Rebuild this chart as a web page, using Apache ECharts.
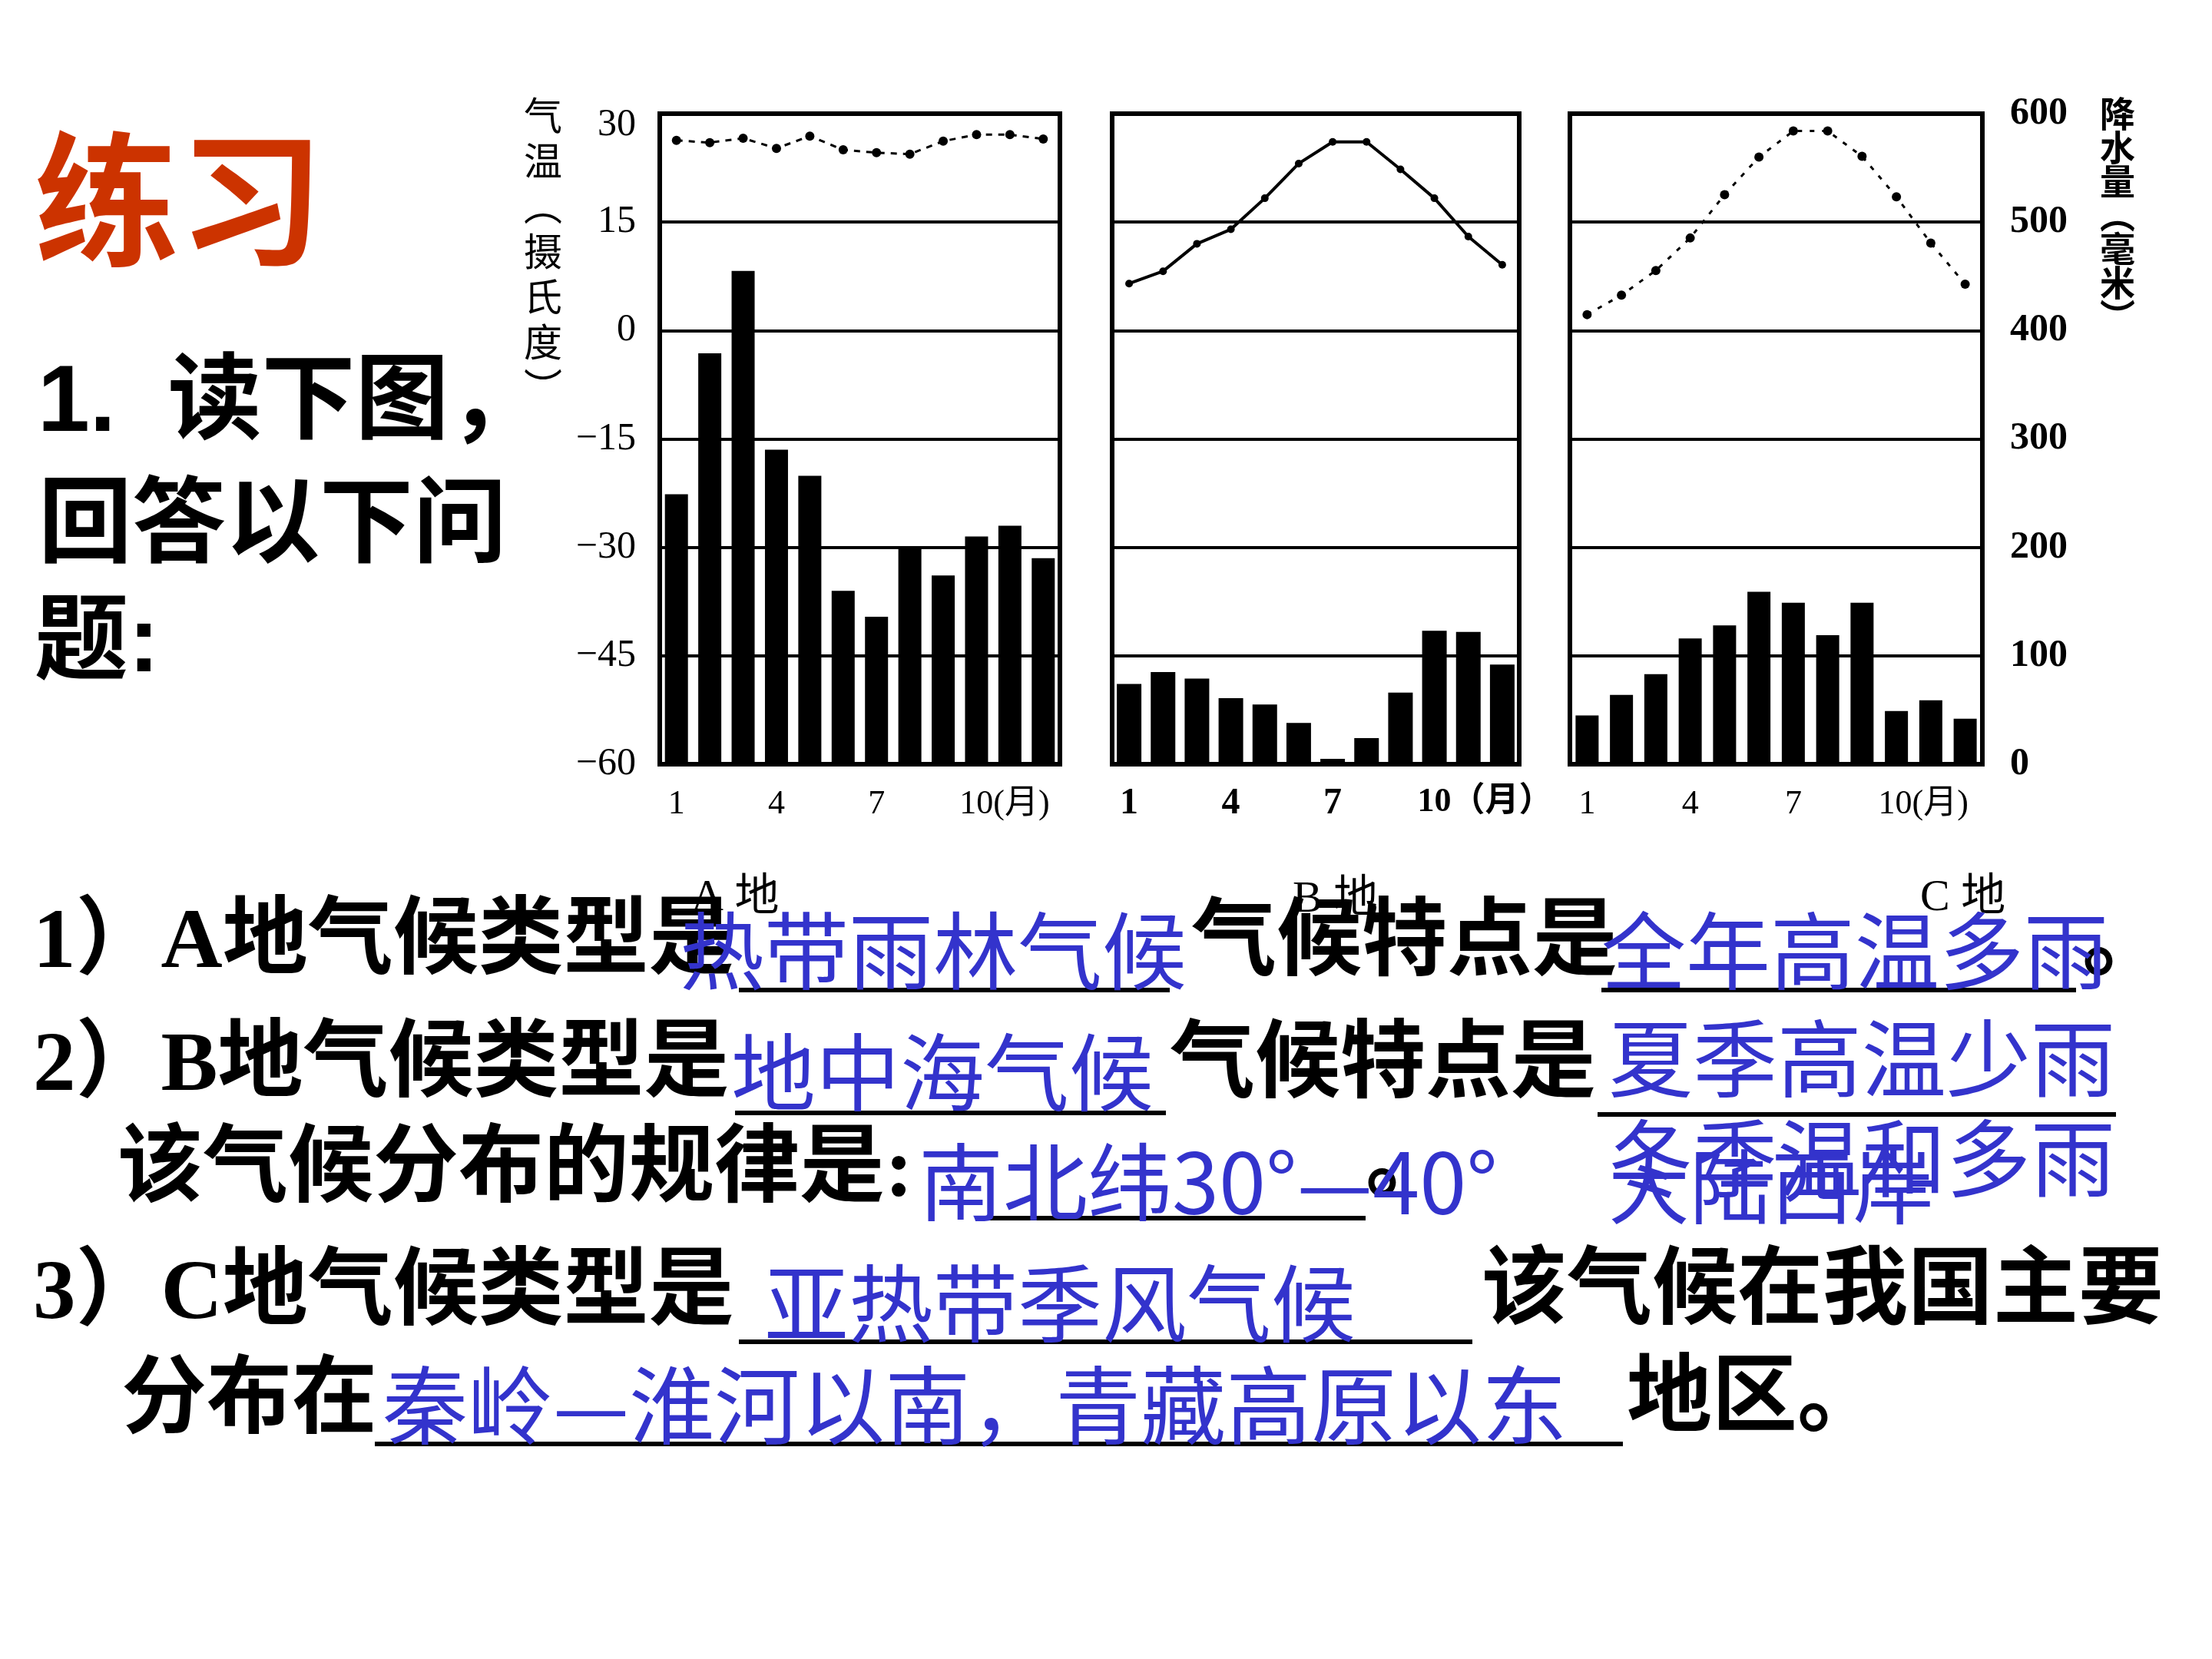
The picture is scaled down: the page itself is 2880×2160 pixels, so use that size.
<!DOCTYPE html>
<html>
<head>
<meta charset="utf-8">
<script src="https://cdn.jsdelivr.net/npm/echarts@6/dist/echarts.min.js"></script>
<style>
  html, body { margin: 0; padding: 0; background: #fff; }
  #chart { width: 2880px; height: 2160px; }
</style>
</head>
<body>
<div id="chart"></div>
<script>
// months and ticks
const months = ['1', '2', '3', '4', '5', '6', '7', '8', '9', '10', '11', '12']
const tickMonths = ['1', '4', '7', '10']

// A 地 (热带雨林)
const tempA = [26.3, 26.0, 26.6, 25.2, 26.9, 25.0, 24.6, 24.4, 26.2, 27.1, 27.1, 26.5]
const rainA = [249, 379, 455, 290, 266, 160, 136, 199, 174, 210, 220, 190]
// B 地 (地中海)
const tempB = [6.5, 8.2, 12.0, 14.0, 18.3, 23.1, 26.1, 26.1, 22.3, 18.3, 13.0, 9.1]
const rainB = [74, 85, 79, 61, 55, 38, 5, 24, 66, 123, 122, 92]
// C 地 (亚热带季风)
const tempC = [2.2, 4.9, 8.3, 12.8, 18.8, 24.0, 27.6, 27.6, 24.1, 18.5, 12.1, 6.4]
const rainC = [45, 64, 83, 116, 128, 159, 149, 119, 149, 49, 59, 42]

const temps = [tempA, tempB, tempC]
const rains = [rainA, rainB, rainC]

const grids = [
  { left: 859, top: 148, width: 521, height: 847 },
  { left: 1448, top: 148, width: 530, height: 847 },
  { left: 2044, top: 148, width: 537, height: 847 }
]
const barWidths = [30, 32, 30]
const lineTypes = [[8, 8], 'solid', [6, 10]]
const monthUnit = ['10(月)', '10（月）', '10(月)']
const unitPad = [73, 132, 70]

const serif = '"Liberation Serif", "Noto Sans CJK SC"'
const cjk = '"Noto Sans CJK SC"'
const blue = '#3333CC'

function txt (x, y, text, font, fill, extra) {
  return Object.assign({
    type: 'text',
    x: x,
    y: y,
    z: 10,
    style: {
      text: text,
      font: font,
      fill: fill || '#000',
      textAlign: 'left',
      textVerticalAlign: 'middle',
      align: 'left',
      verticalAlign: 'middle'
    }
  }, extra || {})
}

function vtxt (x, y, text, font, lh) {
  return {
    type: 'text',
    x: x,
    y: y,
    z: 10,
    style: {
      text: text.split('').join('\n'),
      font: font,
      fill: '#000',
      lineHeight: lh,
      textAlign: 'center',
      textVerticalAlign: 'top',
      align: 'center',
      verticalAlign: 'top'
    }
  }
}

function uline (x1, x2, y) {
  return {
    type: 'line',
    z: 9,
    shape: { x1: x1, y1: y, x2: x2, y2: y },
    style: { stroke: '#000', lineWidth: 6 }
  }
}

const black = 'bold 111px ' + serif
const blueFont = '110px ' + cjk

const chart = echarts.init(document.getElementById('chart'))
chart.setOption({
  backgroundColor: '#fff',
  animation: false,
  grid: grids.map(g => Object.assign({
    show: true,
    borderColor: '#000',
    borderWidth: 6,
    backgroundColor: 'transparent'
  }, g)),
  xAxis: grids.map((g, i) => ({
    type: 'category',
    gridIndex: i,
    data: months,
    axisLine: { show: false },
    axisTick: { show: false },
    splitLine: { show: false },
    axisLabel: {
      interval: (idx, v) => tickMonths.includes(v),
      margin: i === 1 ? 28 : 30,
      color: '#000',
      fontFamily: serif,
      fontSize: i === 1 ? 48 : 44,
      fontWeight: i === 1 ? 'bold' : 'normal',
      formatter: v => v === '10' ? '{m|' + monthUnit[i] + '}' : v,
      rich: {
        m: {
          padding: [0, 0, 0, unitPad[i]],
          color: '#000',
          fontFamily: serif,
          fontSize: 44,
          fontWeight: i === 1 ? 'bold' : 'normal'
        }
      }
    }
  })),
  yAxis: [].concat(...grids.map((g, i) => [
    {
      type: 'value',
      gridIndex: i,
      min: -60,
      max: 30,
      interval: 15,
      position: 'left',
      axisLine: { show: false },
      axisTick: { show: false },
      splitLine: { show: true, lineStyle: { color: '#000', width: 4 } },
      axisLabel: {
        show: i === 0,
        margin: 31,
        color: '#000',
        fontFamily: serif,
        fontSize: 50,
        formatter: v => v === 30 ? '{t|30}' : (v < 0 ? '−' + (-v) : String(v)),
        rich: {
          t: { padding: [30, 0, 0, 0], color: '#000', fontFamily: serif, fontSize: 50 }
        }
      }
    },
    {
      type: 'value',
      gridIndex: i,
      min: 0,
      max: 600,
      interval: 100,
      position: 'right',
      axisLine: { show: false },
      axisTick: { show: false },
      splitLine: { show: false },
      axisLabel: {
        show: i === 2,
        margin: 36,
        color: '#000',
        fontFamily: serif,
        fontSize: 50,
        fontWeight: 'bold'
      }
    }
  ])),
  series: [].concat(...grids.map((g, i) => [
    {
      type: 'bar',
      xAxisIndex: i,
      yAxisIndex: 2 * i + 1,
      data: rains[i],
      barWidth: barWidths[i],
      itemStyle: { color: '#000' },
      z: 2
    },
    {
      type: 'line',
      xAxisIndex: i,
      yAxisIndex: 2 * i,
      data: temps[i],
      symbol: 'circle',
      symbolSize: i === 1 ? 10 : 12,
      itemStyle: { color: '#000' },
      lineStyle: { color: '#000', width: i === 1 ? 4 : 3, type: lineTypes[i] },
      z: 3
    }
  ])),
  graphic: [
    // title and question
    txt(45, 260, '练习', 'bold 188px ' + cjk, '#CC3300'),
    txt(49, 527, '1.  读下图，', 'bold 122px "Liberation Sans", ' + cjk),
    txt(50, 688, '回答以下问', 'bold 122px "Liberation Sans", ' + cjk),
    txt(45, 840, '题:', 'bold 122px "Liberation Sans", ' + cjk),

    // axis titles
    vtxt(707, 120, '气温︵摄氏度︶', '50px ' + cjk, 59),
    vtxt(2757, 126, '降水量︵毫米︶', 'bold 46px ' + cjk, 44),

    // chart captions
    txt(900, 1170, 'A 地', '58px ' + serif),
    txt(1683, 1172, 'B 地', '58px ' + serif),
    txt(2500, 1170, 'C 地', '58px ' + serif),

    // question lines (black)
    txt(43, 1230, '1）A地气候类型是', black),
    txt(1551, 1232, '气候特点是', black),
    txt(2711, 1232, '。', black),
    txt(43, 1390, '2）B地气候类型是', black),
    txt(1523, 1391, '气候特点是', black),
    txt(153, 1527, '该气候分布的规律是:', black),
    txt(1778, 1520, '。', black),
    txt(43, 1687, '3）C地气候类型是', black),
    txt(1929, 1686, '该气候在我国主要', black),
    txt(158, 1828, '分布在', black),
    txt(2118, 1826, '地区。', black),

    // underlines
    uline(962, 1523, 1289),
    uline(2085, 2703, 1289),
    uline(957, 1518, 1449),
    uline(2080, 2755, 1451),
    uline(1273, 1778, 1586),
    uline(962, 1917, 1747),
    uline(488, 2113, 1880),

    // answers (blue)
    txt(885, 1238, '热带雨林气候', blueFont, blue),
    txt(2085, 1238, '全年高温多雨', blueFont, blue),
    txt(952, 1396, '地中海气候', blueFont, blue),
    txt(2094, 1378, '夏季高温少雨', blueFont, blue),
    txt(1196, 1539, '南北纬30°—40°', blueFont, blue),
    txt(2094, 1508, '冬季温和多雨', blueFont, blue),
    txt(2094, 1545, '大陆西岸', '106px ' + cjk, blue),
    txt(995, 1697, '亚热带季风气候', blueFont, blue),
    txt(498, 1830, '秦岭—淮河以南，青藏高原以东', '111px ' + cjk, blue)
  ]
})
</script>
</body>
</html>
